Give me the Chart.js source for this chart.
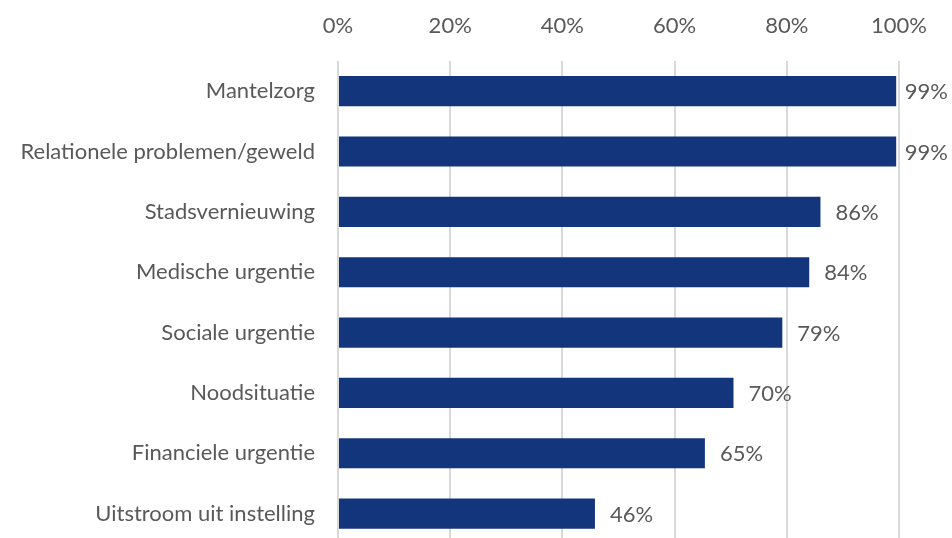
<!DOCTYPE html>
<html>
<head>
<meta charset="utf-8">
<script src="https://cdn.jsdelivr.net/npm/chart.js@4"></script>
<style>
html,body{margin:0;padding:0;overflow:hidden;background:#fff;width:952px;height:538px;}
#wrap{position:absolute;left:0;top:0;width:952px;height:580px;}
canvas{display:block;}
</style>
</head>
<body>
<div id="wrap"><canvas id="c"></canvas></div>
<script>
const categories = ["Mantelzorg","Relationele problemen/geweld","Stadsvernieuwing","Medische urgentie","Sociale urgentie","Noodsituatie","Financiele urgentie","Uitstroom uit instelling"];
const values = [99.5, 99.5, 86, 84, 79.2, 70.5, 65.4, 45.8];
const valueLabels = ["99%","99%","86%","84%","79%","70%","65%","46%"];
const tickValues = [0,20,40,60,80,100];

const FONT = 'Lato, "Open Sans", sans-serif';
const TEXT = '#595959';

const labelPlugin = {
  id: 'valueLabels',
  afterDatasetsDraw(chart) {
    const ctx = chart.ctx;
    const meta = chart.getDatasetMeta(0);
    ctx.save();
    ctx.font = '22px ' + FONT;
    ctx.fillStyle = TEXT;
    ctx.textBaseline = 'middle';
    ctx.textAlign = 'left';
    meta.data.forEach((bar, i) => {
      const t = valueLabels[i];
      const w = ctx.measureText(t).width;
      let x = bar.x + 15;
      if (x + w > chart.width - 4) x = chart.width - 4 - w;
      ctx.fillText(t, x, bar.y + 1);
    });
    ctx.restore();
  }
};

new Chart(document.getElementById('c'), {
  type: 'bar',
  data: {
    labels: categories,
    datasets: [{
      data: values,
      backgroundColor: '#13357c',
      borderWidth: 0,
      barPercentage: 0.5,
      categoryPercentage: 1.0
    }]
  },
  options: {
    indexAxis: 'y',
    responsive: true,
    maintainAspectRatio: false,
    animation: false,
    devicePixelRatio: 1,
    layout: { padding: { left: 0, right: 53, top: 0, bottom: 0 } },
    plugins: { legend: { display: false }, tooltip: { enabled: false } },
    scales: {
      x: {
        position: 'top',
        min: 0, max: 100,
        afterBuildTicks(scale) { scale.ticks = tickValues.map(v => ({ value: v })); },
        afterFit(scale) { scale.height = 61; },
        ticks: {
          callback: v => v + '%',
          color: TEXT,
          font: { family: FONT, size: 22 },
          padding: 22,
          maxRotation: 0
        },
        grid: { color: '#d9d9d9', lineWidth: 2, drawTicks: false },
        border: { display: false }
      },
      y: {
        afterFit(scale) { scale.width = 338; },
        ticks: {
          color: TEXT,
          font: { family: FONT, size: 22 },
          padding: 23
        },
        grid: { display: false, drawTicks: false },
        border: { display: false }
      }
    }
  },
  plugins: [labelPlugin]
});
</script>
</body>
</html>
